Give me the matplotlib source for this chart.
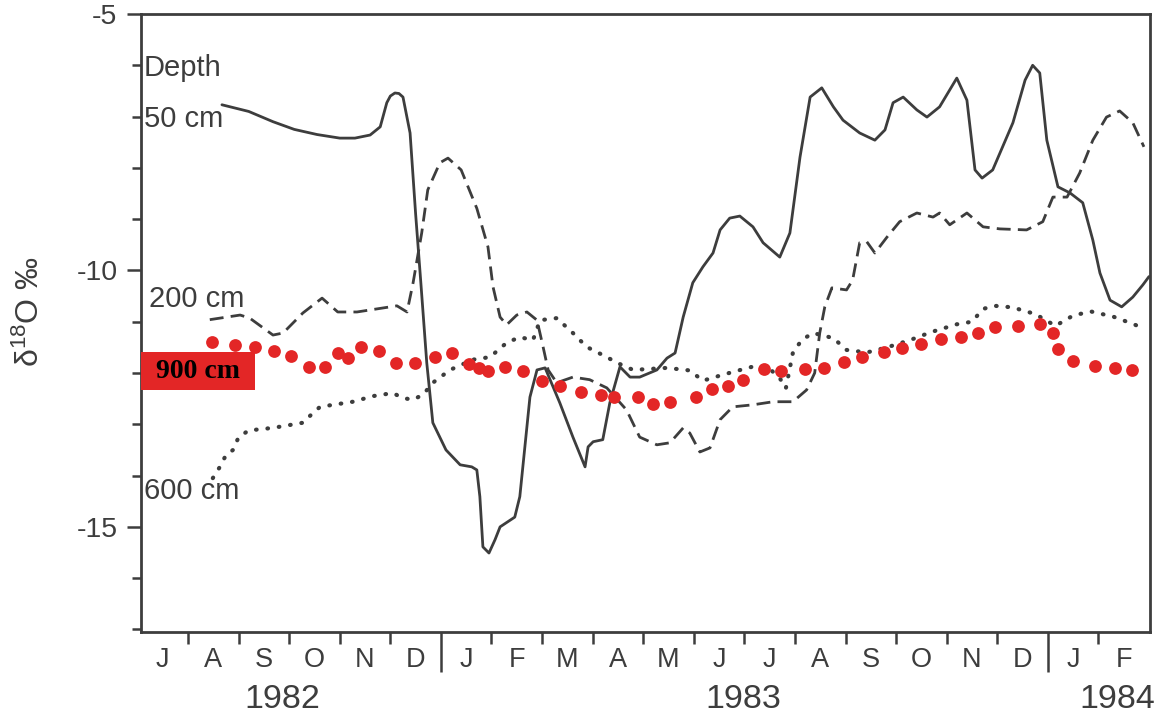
import matplotlib
matplotlib.use("Agg")
import matplotlib.pyplot as plt
from matplotlib.patches import Rectangle
from matplotlib.ticker import FixedLocator, MultipleLocator

# ---- data (x = months since 1 July 1982) ----
month_labels = ["J", "A", "S", "O", "N", "D", "J", "F", "M", "A",
                "M", "J", "J", "A", "S", "O", "N", "D", "J", "F"]
year_labels = ["1982", "1983", "1984"]
year_label_x = [2.87, 11.97, 19.37]

d50_x = [1.67, 2.2, 2.68, 3.1, 3.55, 4.0, 4.3, 4.6, 4.8, 4.93, 5.0, 5.09, 5.17, 5.25, 5.39,
         5.5, 5.6, 5.72, 5.84, 6.1, 6.38, 6.61, 6.71, 6.77, 6.83, 6.95, 7.07,
         7.17, 7.46, 7.56, 7.66, 7.76, 7.9, 8.06, 8.35, 8.61, 8.85, 8.91, 9.01,
         9.2, 9.34, 9.54, 9.74, 9.93, 10.27, 10.47, 10.63, 10.79, 10.98, 11.18,
         11.38, 11.52, 11.71, 11.91, 12.17, 12.37, 12.7, 12.9, 13.1, 13.3,
         13.53, 13.76, 13.95, 14.28, 14.58, 14.78, 14.94, 15.14, 15.41, 15.61,
         15.86, 16.2, 16.4, 16.56, 16.7, 16.91, 17.31, 17.55, 17.7, 17.84,
         17.98, 18.2, 18.44, 18.69, 18.89, 19.03, 19.23, 19.46, 19.68, 19.88, 20.0]
d50_y = [-6.77, -6.9, -7.1, -7.25, -7.35, -7.42, -7.42, -7.36, -7.2, -6.73, -6.6, -6.54,
         -6.55, -6.62, -7.32, -8.9, -10.2, -11.8, -12.97, -13.5, -13.79, -13.83, -13.89,
         -14.41, -15.39, -15.51, -15.25, -15.0, -14.81, -14.41, -13.44, -12.47,
         -11.94, -11.9, -12.58, -13.25, -13.83, -13.44, -13.34, -13.3, -12.58,
         -11.88, -12.08, -12.08, -11.94, -11.71, -11.61, -10.91, -10.24, -9.93,
         -9.66, -9.21, -8.98, -8.94, -9.15, -9.46, -9.74, -9.27, -7.79, -6.62,
         -6.44, -6.81, -7.07, -7.32, -7.46, -7.26, -6.73, -6.62, -6.87, -7.01,
         -6.81, -6.25, -6.68, -8.04, -8.2, -8.04, -7.12, -6.29, -6.0, -6.15,
         -7.46, -8.37, -8.49, -8.68, -9.41, -10.05, -10.58, -10.71, -10.52,
         -10.28, -10.12]

d200_x = [1.43, 2.03, 2.22, 2.68, 2.88, 3.27, 3.65, 3.96, 4.34, 5.13, 5.33, 5.45,
          5.62, 5.74, 5.98, 6.14, 6.4, 6.71, 6.93, 7.03, 7.17, 7.3, 7.5, 7.7, 7.9,
          8.02, 8.12, 8.29, 8.61, 8.94, 9.28, 9.67, 9.93, 10.27, 10.53, 10.79,
          10.92, 11.12, 11.32, 11.52, 11.77, 12.17, 12.57, 12.96, 13.23, 13.39,
          13.49, 13.59, 13.73, 14.02, 14.14, 14.28, 14.42, 14.58, 14.82, 15.07,
          15.41, 15.73, 15.86, 16.06, 16.4, 16.72, 17.05, 17.58, 17.9, 18.1,
          18.38, 18.63, 18.89, 19.16, 19.42, 19.68, 19.9]
d200_y = [-10.96, -10.87, -10.93, -11.26, -11.22, -10.83, -10.54, -10.81, -10.81,
          -10.69, -10.81, -10.24, -9.27, -8.43, -7.9, -7.81, -8.04, -8.79, -9.54,
          -10.32, -10.91, -11.06, -10.87, -10.81, -10.97, -11.49, -11.94, -12.19,
          -12.08, -12.13, -12.29, -12.72, -13.25, -13.4, -13.36, -13.07, -13.17,
          -13.54, -13.46, -12.91, -12.66, -12.62, -12.56, -12.56, -12.33, -12.0,
          -11.22, -10.71, -10.34, -10.38, -10.19, -9.46, -9.44, -9.66, -9.35,
          -9.05, -8.88, -8.96, -8.88, -9.11, -8.88, -9.15, -9.19, -9.21, -9.05,
          -8.57, -8.57, -8.1, -7.46, -7.01, -6.89, -7.12, -7.59]

d600_x = [1.49, 1.63, 1.75, 1.89, 2.0, 2.2, 2.68, 3.27, 3.47, 3.61, 4.26, 4.66,
          5.05, 5.25, 5.45, 5.65, 5.84, 6.18, 6.63, 6.97, 7.3, 7.56, 7.82, 7.96,
          8.29, 8.61, 8.88, 9.28, 9.48, 9.8, 10.47, 10.92, 11.18, 11.52, 11.77,
          12.15, 12.48, 12.7, 12.82, 12.96, 13.14, 13.36, 13.76, 14.02, 14.42,
          14.82, 15.27, 15.7, 16.2, 16.5, 16.72, 16.95, 17.3, 17.75, 18.15, 18.5,
          18.85, 19.29, 19.7, 19.92]
d600_y = [-14.05, -13.83, -13.6, -13.5, -13.25, -13.12, -13.07, -12.97, -12.78,
          -12.66, -12.56, -12.45, -12.39, -12.49, -12.52, -12.42, -12.19, -11.94,
          -11.74, -11.69, -11.41, -11.3, -11.36, -10.97, -10.93, -11.22, -11.49,
          -11.69, -11.8, -11.94, -11.9, -11.95, -12.15, -12.05, -11.98, -11.88,
          -11.9, -12.1, -12.3, -11.6, -11.35, -11.22, -11.32, -11.55, -11.6,
          -11.5, -11.36, -11.2, -11.05, -11.0, -10.75, -10.69, -10.72, -10.85,
          -11.08, -10.88, -10.8, -10.9, -11.05, -11.14]

d900_x = [1.47, 1.93, 2.32, 2.7, 3.03, 3.39, 3.71, 3.96, 4.16, 4.42, 4.77, 5.11,
          5.49, 5.88, 6.22, 6.55, 6.76, 6.94, 7.27, 7.62, 7.99, 8.35, 8.77, 9.16,
          9.42, 9.89, 10.19, 10.53, 11.04, 11.36, 11.67, 11.97, 12.39, 12.72,
          13.2, 13.58, 13.97, 14.33, 14.77, 15.11, 15.49, 15.88, 16.28, 16.62,
          16.95, 17.41, 17.84, 18.1, 18.2, 18.49, 18.93, 19.32, 19.66]
d900_y = [-11.39, -11.45, -11.49, -11.57, -11.67, -11.88, -11.88, -11.61, -11.71,
          -11.49, -11.57, -11.8, -11.8, -11.69, -11.61, -11.82, -11.9, -11.96,
          -11.88, -11.96, -12.15, -12.25, -12.37, -12.43, -12.47, -12.47, -12.6,
          -12.56, -12.47, -12.31, -12.25, -12.13, -11.92, -11.96, -11.92, -11.9,
          -11.78, -11.69, -11.59, -11.51, -11.43, -11.34, -11.3, -11.22, -11.1,
          -11.08, -11.04, -11.22, -11.53, -11.76, -11.86, -11.9, -11.94]

# ---- style ----
plt.rcParams['font.family'] = ['Liberation Sans', 'DejaVu Sans']
plt.rcParams['mathtext.fontset'] = 'custom'
plt.rcParams['mathtext.rm'] = 'Liberation Sans'
plt.rcParams['mathtext.it'] = 'Liberation Sans:italic'
INK = '#3d3d3d'
RED = '#e32626'

fig = plt.figure(figsize=(11.59, 7.15), dpi=100)
ax = fig.add_axes([141 / 1159, 1 - 632 / 715, 1009 / 1159, 618 / 715])

lw = 2.0
ax.plot(d50_x, d50_y, color=INK, lw=lw, solid_capstyle='round',
        solid_joinstyle='round')
ax.plot(d200_x, d200_y, color=INK, lw=lw, linestyle=(0, (5.0, 2.6)))
ax.plot(d600_x, d600_y, color=INK, lw=3.0, linestyle=(0, (0.15, 2.6)),
        dash_capstyle='round')
ax.plot(d900_x, d900_y, linestyle='none', marker='o', markersize=9.2,
        color=RED, markeredgewidth=0)

ax.set_xlim(0.07, 20.02)
ax.set_ylim(-17.05, -5)

for s in ax.spines.values():
    s.set_linewidth(2.0)
    s.set_color(INK)

# y ticks
ax.yaxis.set_major_locator(FixedLocator([-5, -10, -15]))
ax.yaxis.set_minor_locator(MultipleLocator(1))
ax.set_yticklabels(['-5', '-10', '-15'])
ax.tick_params(axis='y', which='major', direction='out', length=10, width=1.8,
               color=INK, labelsize=20.5, labelcolor=INK, pad=7)
ax.tick_params(axis='y', which='minor', direction='out', length=6.5, width=1.8,
               color=INK)

# x ticks: month boundaries, year boundaries longer
ax.xaxis.set_major_locator(FixedLocator([6, 18]))
ax.xaxis.set_minor_locator(FixedLocator([m for m in range(1, 20) if m not in (6, 18)]))
ax.tick_params(axis='x', which='major', direction='out', length=29, width=1.8,
               color=INK, labelbottom=False)
ax.tick_params(axis='x', which='minor', direction='out', length=8.5, width=1.8,
               color=INK)

trans = ax.get_xaxis_transform()
for i, lab in enumerate(month_labels):
    ax.text(i + 0.5, -0.045, lab, transform=trans, ha='center', va='center',
            fontsize=19.5, color=INK, clip_on=False)
for x, lab in zip(year_label_x, year_labels):
    ax.text(x, -0.110, lab, transform=trans, ha='center', va='center',
            fontsize=24.5, color=INK, clip_on=False)

fig.text(30 / 1159, 1 - 312 / 715, r'$\mathrm{\delta^{18}}$O ‰', rotation=90,
         ha='center', va='center', fontsize=23, color=INK)

# series labels
ax.text(0.13, -6.05, 'Depth', fontsize=21, color=INK, ha='left', va='center')
ax.text(0.13, -7.05, '50 cm', fontsize=21, color=INK, ha='left', va='center')
ax.text(0.22, -10.55, '200 cm', fontsize=21, color=INK, ha='left', va='center')
ax.text(0.13, -14.3, '600 cm', fontsize=21, color=INK, ha='left', va='center')

# 900 cm red label box
ax.add_patch(Rectangle((0.0, (632 - 390) / 618), 114 / 1009, 38 / 618,
                       transform=ax.transAxes, facecolor=RED, edgecolor='none',
                       zorder=5, clip_on=False))
ax.text(57 / 1009, (632 - 371) / 618, '900 cm', transform=ax.transAxes,
        ha='center', va='center', fontsize=20, fontweight='bold',
        family='Liberation Serif', color='black', zorder=6)

fig.savefig('out.png', dpi=100, facecolor='white')
